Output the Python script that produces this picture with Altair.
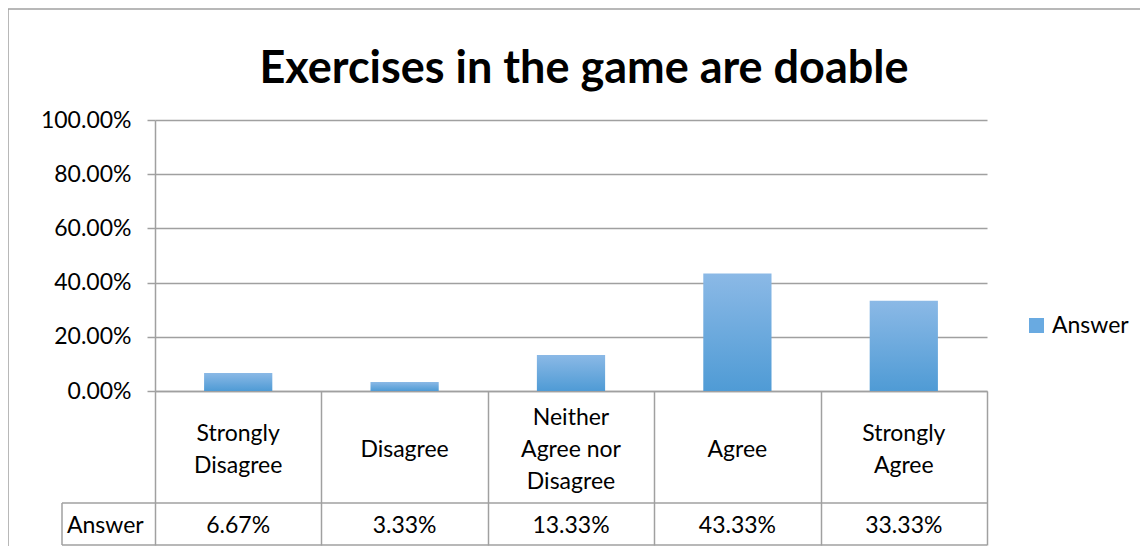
import altair as alt
import pandas as pd

# ---- data ----
categories = ["Strongly Disagree", "Disagree", "Neither Agree nor Disagree", "Agree", "Strongly Agree"]
category_lines = ["Strongly\nDisagree", "Disagree", "Neither\nAgree nor\nDisagree", "Agree", "Strongly\nAgree"]
values = [0.0667, 0.0333, 0.1333, 0.4333, 0.3333]
series_name = "Answer"
y_ticks = [0, 0.2, 0.4, 0.6, 0.8, 1.0]
title_text = "Exercises in the game are doable"

df = pd.DataFrame({"category": categories, "label": category_lines, "value": values,
                   "series": [series_name] * len(categories)})
one = pd.DataFrame({"a": [0]})

FONT = "Lato"
GRAY = "#a0a0a0"
W, H = 832, 271
LINE_H = 32

xscale = alt.Scale(domain=categories, paddingInner=0, paddingOuter=0)
yscale = alt.Scale(domain=[0, 1], nice=False)

x_enc = alt.X("category:N", scale=xscale, sort=categories,
              axis=alt.Axis(title=None, labels=False, tickBand="extent", tickSize=154,
                            tickColor=GRAY, tickWidth=1.5, domainColor=GRAY, domainWidth=1.5))
y_enc = alt.Y("value:Q", scale=yscale,
              axis=alt.Axis(title=None, values=y_ticks, format=".2%", tickSize=8, tickColor=GRAY,
                            tickWidth=1.5, domainColor=GRAY, domainWidth=1.5, gridColor=GRAY,
                            gridWidth=1.5, labelFont=FONT, labelFontSize=23, labelColor="#000000",
                            labelPadding=16))

grad = alt.Gradient(gradient="linear",
                    stops=[alt.GradientStop(color="#8bb9e6", offset=0),
                           alt.GradientStop(color="#4f9bd5", offset=1)],
                    x1=0, x2=0, y1=0, y2=1)

bars = alt.Chart(df).mark_bar(color=grad, width={"band": 0.41}).encode(x=x_enc, y=y_enc)

legend_layer = alt.Chart(df).transform_filter("false").mark_square(opacity=1).encode(
    color=alt.Color("series:N",
                    scale=alt.Scale(domain=[series_name], range=["#69aae1"]),
                    legend=alt.Legend(title=None, orient="none", legendX=870, legendY=194,
                                      symbolType="square", symbolSize=225, symbolStrokeWidth=0,
                                      labelFont=FONT, labelFontSize=23, labelColor="#000000",
                                      labelOffset=4, padding=0))
)

cat_text = alt.Chart(df).transform_calculate(
    nlines="length(split(datum.label, '\\n'))",
    ypos=f"330 - (datum.nlines - 1) * {LINE_H} / 2",
).mark_text(font=FONT, fontSize=23, lineBreak="\n", lineHeight=LINE_H,
            baseline="middle", color="#000000").encode(
    x=alt.X("category:N", scale=xscale, sort=categories),
    y=alt.Y("ypos:Q", scale=None), text="label:N")

val_text = alt.Chart(df).mark_text(font=FONT, fontSize=23, baseline="middle", color="#000000").encode(
    x=alt.X("category:N", scale=xscale, sort=categories), y=alt.value(406),
    text=alt.Text("value:Q", format=".2%"))

row_text = alt.Chart(one).mark_text(font=FONT, fontSize=23, baseline="middle", align="left",
                                    color="#000000").encode(
    x=alt.value(-88), y=alt.value(406), text=alt.value(series_name))

title_mark = alt.Chart(one).mark_text(font=FONT, fontSize=45, fontWeight="bold", baseline="alphabetic",
                                      align="center", color="#000000").encode(
    x=alt.value(429), y=alt.value(-37), text=alt.value(title_text))

table_h = alt.Chart(pd.DataFrame({"y": [383, 425]})).mark_rule(color=GRAY, strokeWidth=1.5).encode(
    x=alt.value(-93), x2=alt.value(W), y=alt.Y("y:Q", scale=None))
table_v = alt.Chart(one).mark_rule(color=GRAY, strokeWidth=1.5).encode(
    x=alt.value(-93), y=alt.value(383), y2=alt.value(425))

border_top = alt.Chart(one).mark_rule(color=GRAY, strokeWidth=1.5).encode(
    x=alt.value(-147), x2=alt.value(1000), y=alt.value(-111))
border_left = alt.Chart(one).mark_rule(color=GRAY, strokeWidth=1.5).encode(
    x=alt.value(-147), y=alt.value(-111), y2=alt.value(440))

chart = alt.layer(border_top, border_left, bars, legend_layer, cat_text, val_text, row_text,
                  title_mark, table_h, table_v).properties(
    width=W, height=H,
    autosize=alt.AutoSizeParams(type="none"),
    padding={"left": 147, "top": 112, "right": 153, "bottom": 155},
).configure_view(stroke="transparent")

chart.save("out.html", embed_options={"renderer": "svg", "actions": False})
